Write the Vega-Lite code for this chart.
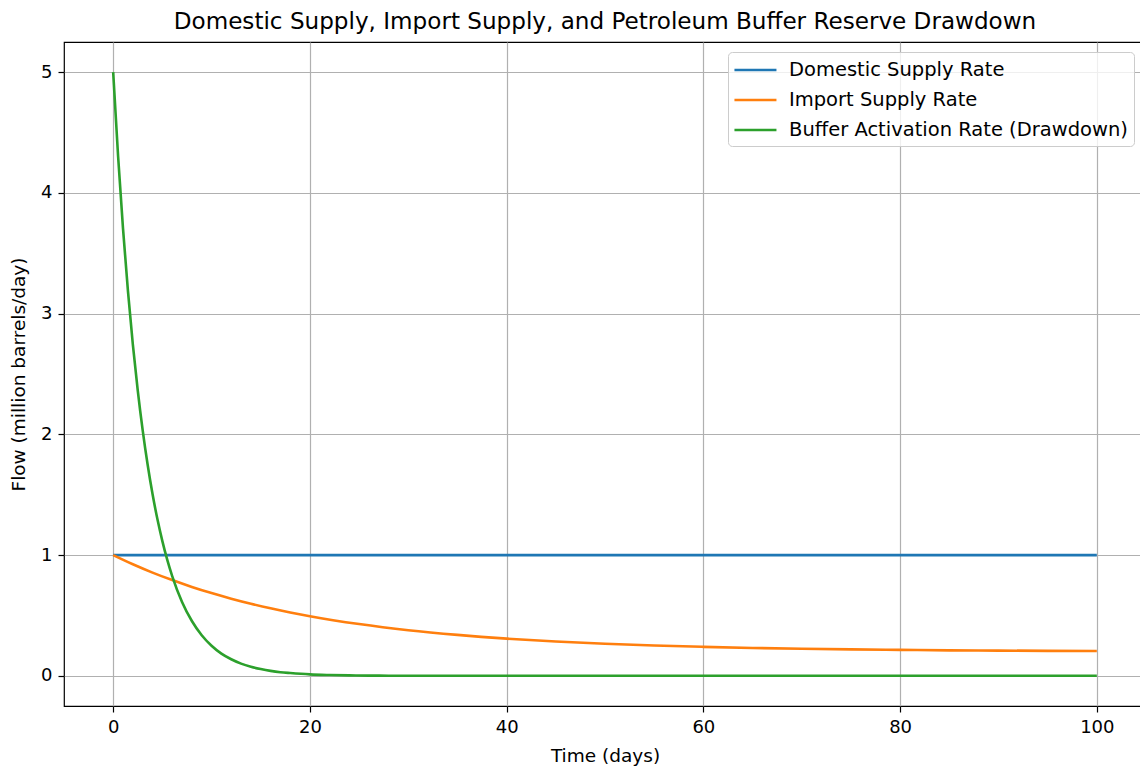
{
  "$schema": "https://vega.github.io/schema/vega-lite/v6.json",
  "autosize": {"type": "none"},
  "padding": {"left": 64, "top": 42, "right": 0, "bottom": 65},
  "width": 1082,
  "height": 664,
  "title": {
    "text": "Domestic Supply, Import Supply, and Petroleum Buffer Reserve Drawdown",
    "font": "DejaVu Sans",
    "fontSize": 23.1,
    "fontWeight": "normal",
    "color": "#000",
    "anchor": "middle",
    "frame": "group",
    "offset": 8
  },
  "config": {
    "view": {"stroke": "#000", "strokeWidth": 1.2},
    "axis": {
      "labelFont": "DejaVu Sans",
      "labelFontSize": 18,
      "labelColor": "#000",
      "titleFont": "DejaVu Sans",
      "titleFontSize": 18.5,
      "titleFontWeight": "normal",
      "titleColor": "#000",
      "domain": false,
      "grid": true,
      "gridColor": "#b0b0b0",
      "gridWidth": 1.2,
      "tickColor": "#000",
      "tickSize": 6,
      "tickWidth": 1.2,
      "labelPadding": 6
    },
    "legend": {
      "labelFont": "DejaVu Sans",
      "labelFontSize": 19.5,
      "labelColor": "#000"
    }
  },
  "data": {
    "values": [
      {"t": 0, "series": "Domestic Supply Rate", "flow": 1},
      {"t": 100, "series": "Domestic Supply Rate", "flow": 1},
      {"t": 0, "series": "Import Supply Rate", "flow": 1.0},
      {"t": 2, "series": "Import Supply Rate", "flow": 0.924},
      {"t": 4, "series": "Import Supply Rate", "flow": 0.855},
      {"t": 6, "series": "Import Supply Rate", "flow": 0.793},
      {"t": 8, "series": "Import Supply Rate", "flow": 0.736},
      {"t": 10, "series": "Import Supply Rate", "flow": 0.685},
      {"t": 12, "series": "Import Supply Rate", "flow": 0.639},
      {"t": 14, "series": "Import Supply Rate", "flow": 0.597},
      {"t": 16, "series": "Import Supply Rate", "flow": 0.559},
      {"t": 18, "series": "Import Supply Rate", "flow": 0.525},
      {"t": 20, "series": "Import Supply Rate", "flow": 0.494},
      {"t": 25, "series": "Import Supply Rate", "flow": 0.429},
      {"t": 30, "series": "Import Supply Rate", "flow": 0.378},
      {"t": 35, "series": "Import Supply Rate", "flow": 0.339},
      {"t": 40, "series": "Import Supply Rate", "flow": 0.308},
      {"t": 45, "series": "Import Supply Rate", "flow": 0.284},
      {"t": 50, "series": "Import Supply Rate", "flow": 0.266},
      {"t": 55, "series": "Import Supply Rate", "flow": 0.251},
      {"t": 60, "series": "Import Supply Rate", "flow": 0.240},
      {"t": 65, "series": "Import Supply Rate", "flow": 0.231},
      {"t": 70, "series": "Import Supply Rate", "flow": 0.224},
      {"t": 75, "series": "Import Supply Rate", "flow": 0.219},
      {"t": 80, "series": "Import Supply Rate", "flow": 0.215},
      {"t": 85, "series": "Import Supply Rate", "flow": 0.211},
      {"t": 90, "series": "Import Supply Rate", "flow": 0.209},
      {"t": 95, "series": "Import Supply Rate", "flow": 0.207},
      {"t": 100, "series": "Import Supply Rate", "flow": 0.205},
      {"t": 0, "series": "Buffer Activation Rate (Drawdown)", "flow": 5.0},
      {"t": 0.5, "series": "Buffer Activation Rate (Drawdown)", "flow": 4.304},
      {"t": 1, "series": "Buffer Activation Rate (Drawdown)", "flow": 3.704},
      {"t": 1.5, "series": "Buffer Activation Rate (Drawdown)", "flow": 3.188},
      {"t": 2, "series": "Buffer Activation Rate (Drawdown)", "flow": 2.744},
      {"t": 2.5, "series": "Buffer Activation Rate (Drawdown)", "flow": 2.362},
      {"t": 3, "series": "Buffer Activation Rate (Drawdown)", "flow": 2.033},
      {"t": 3.5, "series": "Buffer Activation Rate (Drawdown)", "flow": 1.750},
      {"t": 4, "series": "Buffer Activation Rate (Drawdown)", "flow": 1.506},
      {"t": 4.5, "series": "Buffer Activation Rate (Drawdown)", "flow": 1.296},
      {"t": 5, "series": "Buffer Activation Rate (Drawdown)", "flow": 1.116},
      {"t": 5.5, "series": "Buffer Activation Rate (Drawdown)", "flow": 0.960},
      {"t": 6, "series": "Buffer Activation Rate (Drawdown)", "flow": 0.826},
      {"t": 7, "series": "Buffer Activation Rate (Drawdown)", "flow": 0.612},
      {"t": 8, "series": "Buffer Activation Rate (Drawdown)", "flow": 0.454},
      {"t": 9, "series": "Buffer Activation Rate (Drawdown)", "flow": 0.336},
      {"t": 10, "series": "Buffer Activation Rate (Drawdown)", "flow": 0.249},
      {"t": 11, "series": "Buffer Activation Rate (Drawdown)", "flow": 0.184},
      {"t": 12, "series": "Buffer Activation Rate (Drawdown)", "flow": 0.137},
      {"t": 13, "series": "Buffer Activation Rate (Drawdown)", "flow": 0.101},
      {"t": 14, "series": "Buffer Activation Rate (Drawdown)", "flow": 0.075},
      {"t": 15, "series": "Buffer Activation Rate (Drawdown)", "flow": 0.056},
      {"t": 16, "series": "Buffer Activation Rate (Drawdown)", "flow": 0.041},
      {"t": 17, "series": "Buffer Activation Rate (Drawdown)", "flow": 0.030},
      {"t": 18, "series": "Buffer Activation Rate (Drawdown)", "flow": 0.023},
      {"t": 20, "series": "Buffer Activation Rate (Drawdown)", "flow": 0.012},
      {"t": 22, "series": "Buffer Activation Rate (Drawdown)", "flow": 0.0068},
      {"t": 24, "series": "Buffer Activation Rate (Drawdown)", "flow": 0.0037},
      {"t": 26, "series": "Buffer Activation Rate (Drawdown)", "flow": 0.002},
      {"t": 28, "series": "Buffer Activation Rate (Drawdown)", "flow": 0.0011},
      {"t": 30, "series": "Buffer Activation Rate (Drawdown)", "flow": 0.0006},
      {"t": 35, "series": "Buffer Activation Rate (Drawdown)", "flow": 0.0001},
      {"t": 40, "series": "Buffer Activation Rate (Drawdown)", "flow": 0},
      {"t": 50, "series": "Buffer Activation Rate (Drawdown)", "flow": 0},
      {"t": 60, "series": "Buffer Activation Rate (Drawdown)", "flow": 0},
      {"t": 70, "series": "Buffer Activation Rate (Drawdown)", "flow": 0},
      {"t": 80, "series": "Buffer Activation Rate (Drawdown)", "flow": 0},
      {"t": 90, "series": "Buffer Activation Rate (Drawdown)", "flow": 0},
      {"t": 100, "series": "Buffer Activation Rate (Drawdown)", "flow": 0}
    ]
  },
  "mark": {"type": "line", "strokeWidth": 2.6, "interpolate": "monotone", "clip": true},
  "encoding": {
    "x": {
      "field": "t",
      "type": "quantitative",
      "title": "Time (days)",
      "scale": {"domain": [-5, 105], "nice": false, "zero": false},
      "axis": {"values": [0, 20, 40, 60, 80, 100], "titlePadding": 10}
    },
    "y": {
      "field": "flow",
      "type": "quantitative",
      "title": "Flow (million barrels/day)",
      "scale": {"domain": [-0.25, 5.25], "nice": false, "zero": false},
      "axis": {"values": [0, 1, 2, 3, 4, 5], "titlePadding": 12}
    },
    "color": {
      "field": "series",
      "type": "nominal",
      "scale": {
        "domain": ["Domestic Supply Rate", "Import Supply Rate", "Buffer Activation Rate (Drawdown)"],
        "range": ["#1f77b4", "#ff7f0e", "#2ca02c"]
      },
      "legend": {
        "title": null,
        "orient": "none",
        "legendX": 664,
        "legendY": 10,
        "symbolType": "M-1.1,0H2.9",
        "symbolSize": 441,
        "symbolStrokeWidth": 2.6,
        "labelOffset": 31,
        "labelLimit": 600,
        "rowPadding": 8,
        "padding": 6,
        "strokeColor": "#cccccc",
        "fillColor": "rgba(255,255,255,0.8)",
        "cornerRadius": 4
      }
    }
  }
}
